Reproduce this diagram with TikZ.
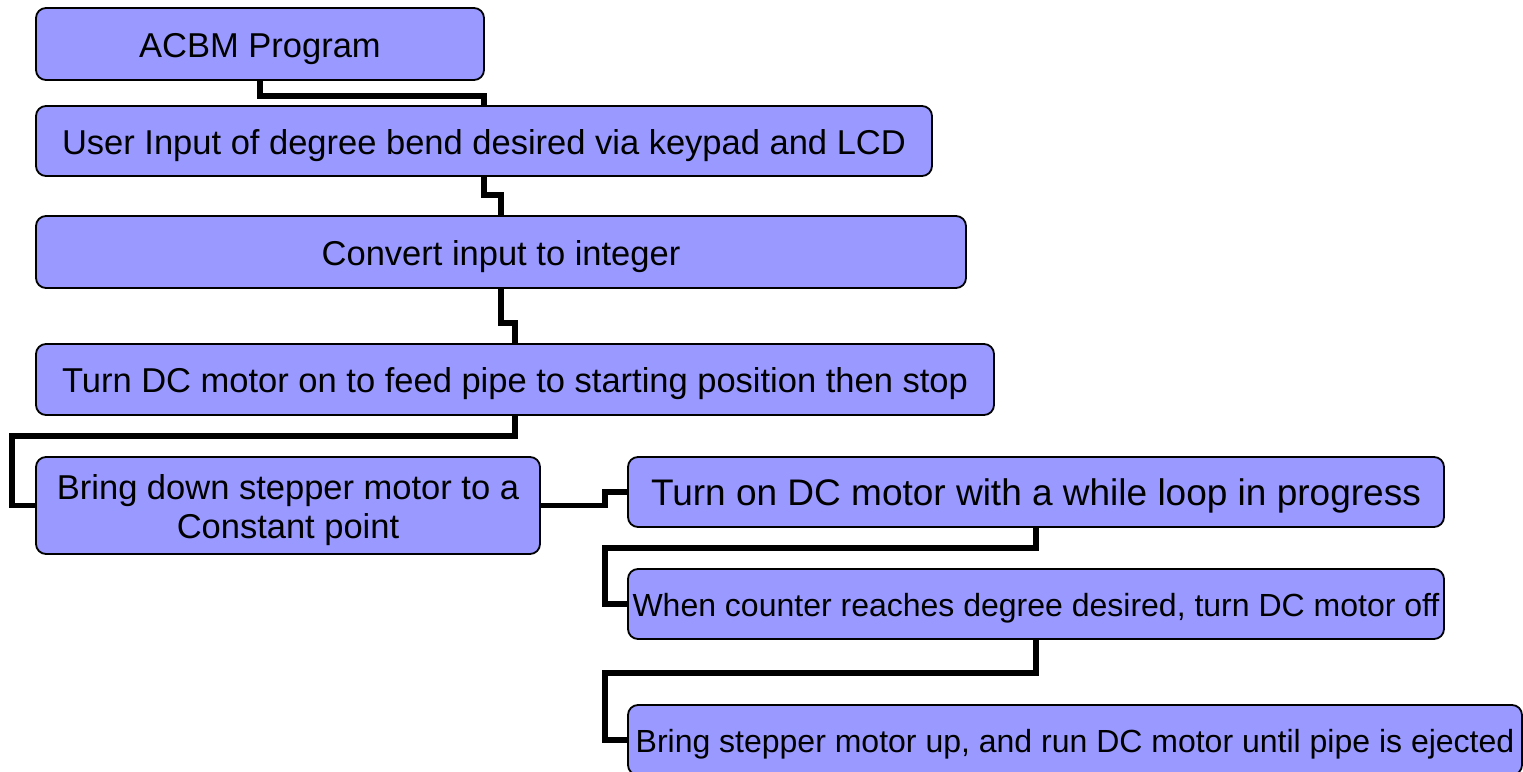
\documentclass[tikz,border=0pt]{standalone}
\usepackage{fontspec}
\setmainfont{Liberation Sans}
\usetikzlibrary{backgrounds}
\definecolor{boxfill}{HTML}{9999FF}
\tikzset{
  box/.style={draw=black, line width=1.8pt, fill=boxfill, rounded corners=10pt,
    inner sep=0pt, align=center, font=\fontsize{34.5}{39}\selectfont,
    text height=26pt, text depth=0pt},
  conn/.style={draw=black, line width=5.5pt, line join=miter}
}
\begin{document}
\begin{tikzpicture}[x=1pt, y=-1pt]
\useasboundingbox (0,0) rectangle (1523,771);
\node[box, minimum width=448pt, minimum height=72pt] (b1) at (260,44) {ACBM Program};
\node[box, minimum width=896pt, minimum height=70pt] (b2) at (484,141) {User Input of degree bend desired via keypad and LCD};
\node[box, minimum width=930pt, minimum height=72pt] (b3) at (501,252) {Convert input to integer};
\node[box, minimum width=958pt, minimum height=71pt] (b4) at (515,379.5) {Turn DC motor on to feed pipe to starting position then stop};
\node[box, minimum width=504pt, minimum height=97pt, text height=66pt] (b5) at (288,505.5) {Bring down stepper motor to a\\Constant point};
\node[box, minimum width=816pt, minimum height=70pt, font=\fontsize{37}{42}\selectfont, text height=27pt] (b6) at (1036,492) {Turn on DC motor with a while loop in progress};
\node[box, minimum width=816pt, minimum height=70pt, font=\fontsize{32}{37}\selectfont, text height=24pt] (b7) at (1036,604) {When counter reaches degree desired, turn DC motor off};
\node[box, minimum width=894pt, minimum height=70pt, font=\fontsize{32}{37}\selectfont, text height=24pt] (b8) at (1075,740) {Bring stepper motor up, and run DC motor until pipe is ejected};
\coordinate (k4) at (12,436);
\coordinate (k5) at (605,492);
\coordinate (k6) at (605,548);
\coordinate (k7) at (605,673);
\begin{scope}[on background layer]
\fill[white] (0,0) rectangle (1523,771);
\draw[conn] (b1.south) -- ++(0,15) -| (b2.north);
\draw[conn] (b2.south) -- ++(0,18) -| (b3.north);
\draw[conn] (b3.south) -- ++(0,34) -| (b4.north);
\draw[conn] (b4.south) |- (k4) |- (b5.west);
\draw[conn] (b5.east) -| (k5) -- (b6.west);
\draw[conn] (b6.south) |- (k6) |- (b7.west);
\draw[conn] (b7.south) |- (k7) |- (b8.west);
\end{scope}
\end{tikzpicture}
\end{document}
